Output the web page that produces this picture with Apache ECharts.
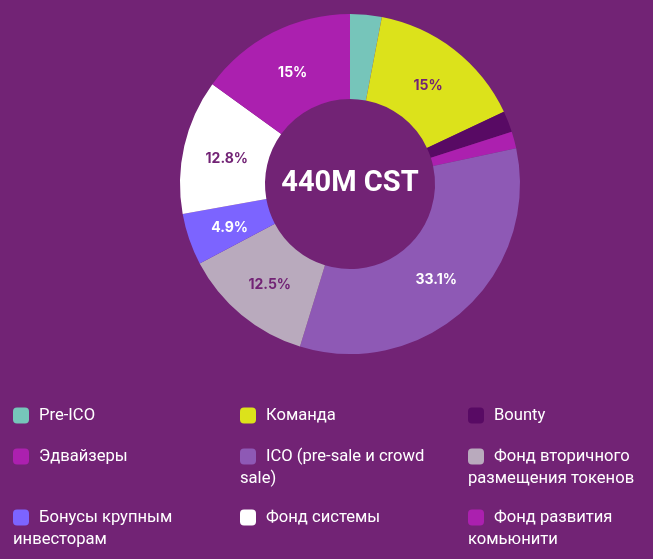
<!DOCTYPE html>
<html><head><meta charset="utf-8">
<style>html,body{margin:0;padding:0;background:#722375}#c{width:653px;height:559px}</style>
<script src="https://cdn.jsdelivr.net/npm/echarts@6/dist/echarts.min.js"></script>
</head><body><div id="c"></div>
<script>
const names = ['Pre-ICO','Команда','Bounty','Эдвайзеры','ICO (pre-sale и crowd\nsale)','Фонд вторичного\nразмещения токенов','Бонусы крупным\nинвесторам','Фонд системы','Фонд развития\nкомьюнити'];
const values = [3,15,2,1.6,33.1,12.5,4.9,12.8,15];
const showLabel = [false,true,false,false,true,true,true,true,true];
const colors = ['#76C5BA','#DCE21B','#580A64','#AC20AF','#8E59B5','#B9AABD','#7C64FF','#FFFFFF','#AB20AF'];
const labelColors = ['#fff','#722375','#fff','#fff','#fff','#722375','#fff','#722375','#fff'];
const labelNudge = [[0,0],[-2,5],[0,0],[0,0],[-2,0],[3,0],[3,1],[4,4],[2,5]];
const columnX = [13,240,468];
const rowY = [405,446,507];
const FONT = 'Roboto';
const LABEL_FONT = 'Inter';
const chart = echarts.init(document.getElementById('c'),null,{renderer:'canvas'});
const legends = names.map((n,i)=>({
  data:[n], left:columnX[i%3], top:rowY[Math.floor(i/3)], padding:0,
  itemWidth:16,itemHeight:16,icon:'roundRect',selectedMode:false,
  formatter:v=>v.split('\n')[0],
  textStyle:{color:'#fff',fontFamily:FONT,fontSize:16.6,padding:[3,0,0,5],lineHeight:18}
}));
const graphics = names.map((n,i)=>n.includes('\n')?{type:'text',left:columnX[i%3],top:rowY[Math.floor(i/3)]+24,
  style:{text:n.split('\n')[1],fill:'#fff',font:'16.6px "'+FONT+'"'}}:null).filter(Boolean);
graphics.push({type:'text',x:350,y:184,
  style:{text:'440M CST',fill:'#fff',font:'700 29px "'+FONT+'"',textAlign:'center',textVerticalAlign:'middle'}});
chart.setOption({
  backgroundColor:'#722375',
  animation:false,
  legend:legends,
  graphic:graphics,
  series:[{type:'pie',center:[350,184],radius:[85,170],startAngle:90,clockwise:true,
    avoidLabelOverlap:false,labelLine:{show:false},
    data:names.map((n,i)=>({name:n,value:values[i],itemStyle:{color:colors[i]},
      label:{show:showLabel[i],position:'inside',formatter:values[i]+'%',color:labelColors[i],
        fontFamily:LABEL_FONT,fontSize:14,fontWeight:700,offset:labelNudge[i]}}))
  }]
});
</script></body></html>
